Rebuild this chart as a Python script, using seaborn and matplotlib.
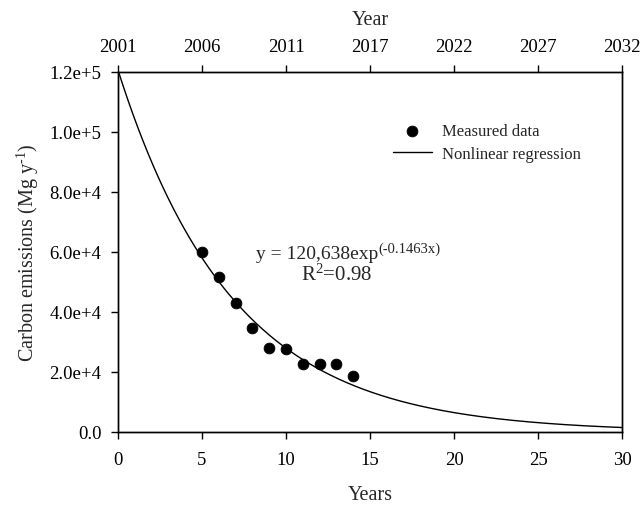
import numpy as np
import pandas as pd
import matplotlib
matplotlib.use("Agg")
import matplotlib.pyplot as plt
import seaborn as sns

# Data
years_measured = [5, 6, 7, 8, 9, 10, 11, 12, 13, 14]
emissions_measured = [60000, 51700, 43000, 34800, 28000, 27600, 22600, 22600, 22700, 18600]
coef_a = 120638
coef_b = -0.1463
x_ticks = [0, 5, 10, 15, 20, 25, 30]
top_tick_labels = ["2001", "2006", "2011", "2017", "2022", "2027", "2032"]
y_ticks = [0, 20000, 40000, 60000, 80000, 100000, 120000]
y_tick_labels = ["0.0", "2.0e+4", "4.0e+4", "6.0e+4", "8.0e+4", "1.0e+5", "1.2e+5"]

sns.set_style("ticks")
plt.rcParams['font.family'] = ['Liberation Serif', 'DejaVu Serif']
plt.rcParams['mathtext.fontset'] = 'custom'
plt.rcParams['mathtext.rm'] = 'Liberation Serif'
plt.rcParams['mathtext.it'] = 'Liberation Serif'
plt.rcParams['axes.unicode_minus'] = False

TICK_FS = 13.5
LABEL_FS = 14.5

fig = plt.figure(figsize=(6.41, 5.06), dpi=100)
ax = fig.add_axes([118/641, 1-433/506, (622-118)/641, (433-73)/506])

xs = np.linspace(0, 30, 301)
fit_df = pd.DataFrame({"x": xs, "y": coef_a*np.exp(coef_b*xs)})
meas_df = pd.DataFrame({"x": years_measured, "y": emissions_measured})

sns.lineplot(data=fit_df, x="x", y="y", ax=ax, color="black", linewidth=1.0,
             label="Nonlinear regression")
sns.scatterplot(data=meas_df, x="x", y="y", ax=ax, color="black", s=60,
                edgecolor="black", label="Measured data", zorder=3)

ax.set_xlim(0, 30)
ax.set_ylim(0, 120000)
ax.set_xticks(x_ticks)
ax.set_xticklabels([str(t) for t in x_ticks])
ax.set_yticks(y_ticks)
ax.set_yticklabels(y_tick_labels)
ax.tick_params(axis="x", labelsize=TICK_FS, direction="out", length=5, width=1,
               colors="black", pad=9)
ax.tick_params(axis="y", labelsize=TICK_FS, direction="out", length=5, width=1,
               colors="black", pad=7)
for s in ax.spines.values():
    s.set_linewidth(1.0)
    s.set_color("black")
    s.set_visible(True)
ax.set_xlabel("Years", fontsize=LABEL_FS, labelpad=12)
ax.set_ylabel("Carbon emissions (Mg y$^{\\text{-1}}$)", fontsize=LABEL_FS, labelpad=6)

ax2 = ax.twiny()
ax2.set_xlim(0, 30)
ax2.set_xticks(x_ticks)
ax2.set_xticklabels(top_tick_labels)
ax2.tick_params(labelsize=TICK_FS, direction="out", length=5, width=1,
                colors="black", pad=7)
ax2.set_xlabel("Year", fontsize=LABEL_FS, labelpad=10)
for s in ax2.spines.values():
    s.set_linewidth(1.0)
    s.set_color("black")

handles, labels = ax.get_legend_handles_labels()
order = [labels.index("Measured data"), labels.index("Nonlinear regression")]
ax.legend([handles[i] for i in order], [labels[i] for i in order],
          loc="upper left", bbox_to_anchor=(0.515, 0.90), frameon=False,
          fontsize=12, handlelength=2.35, handletextpad=0.6, labelspacing=0.42)

t1 = ax.text((378-118)/504, 1-(255-73)/360, "y = 120,638exp", transform=ax.transAxes,
             ha="right", va="center", fontsize=TICK_FS + 0.5)
ax.annotate("(-0.1463x)", xy=(1.0, 1.0), xycoords=t1, xytext=(0.5, 3),
            textcoords="offset points", ha="left", va="top", fontsize=10.5)
ax.text((337-118)/504, 1-(275-73)/360, "R$^{2}$=0.98", transform=ax.transAxes,
        ha="center", va="center", fontsize=15)

fig.savefig("out.png", dpi=100)
